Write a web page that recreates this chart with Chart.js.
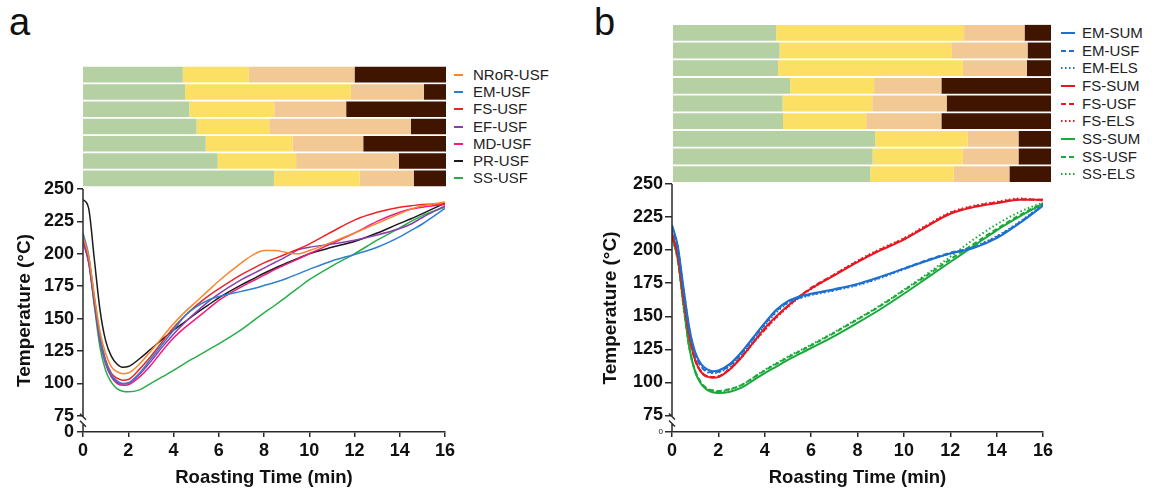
<!DOCTYPE html>
<html>
<head>
<meta charset="utf-8">
<script src="https://cdn.jsdelivr.net/npm/chart.js@4.4.0/dist/chart.umd.min.js"></script>
<style>
  body { margin: 0; background: #fff; }
  #wrap { position: relative; width: 1157px; height: 491px; overflow: hidden; font-family: "Liberation Sans", Arial, sans-serif; }
  canvas, svg, .leg, .panel { position: absolute; }
  .panel { font-size: 38px; color: #111; line-height: normal; }
  .leg { font-size: 15px; color: #222; line-height: 16px; white-space: nowrap; }
</style>
</head>
<body>
<div id="wrap">
  <div class="panel" style="left:9px; top:1px;">a</div>
  <div class="panel" style="left:594px; top:1px;">b</div>
  <canvas id="barA" width="363" height="121" style="left:83px; top:66px;"></canvas>
  <canvas id="lineA" width="470" height="321" style="left:0px; top:170px;"></canvas>
  <canvas id="barB" width="378" height="159" style="left:673px; top:24px;"></canvas>
  <canvas id="lineB" width="480" height="326" style="left:585px; top:165px;"></canvas>
</div>
<script>
// roast phase shares (% of roast): drying, yellowing, Maillard, development
const phaseColors = ['#b5d1a3', '#fce066', '#f2c994', '#401500'];

const rowsA = ['NRoR-USF', 'EM-USF', 'FS-USF', 'EF-USF', 'MD-USF', 'PR-USF', 'SS-USF'];
const colorsA = ['#f7862a', '#2d7fcf', '#ee2326', '#8b3db0', '#f5197f', '#1a1a1a', '#27ae4a'];
const phasesA = [
    [27.5, 18.2, 29.1, 25.2],
    [28.1, 45.7, 20.1, 6.1],
    [29.3, 23.4, 19.8, 27.5],
    [31.3, 20.0, 39.0, 9.7],
    [33.8, 23.9, 19.5, 22.8],
    [37.1, 21.6, 28.3, 13.0],
    [52.6, 23.6, 14.9, 8.9]
];

const rowsB = ['EM-SUM', 'EM-USF', 'EM-ELS', 'FS-SUM', 'FS-USF', 'FS-ELS', 'SS-SUM', 'SS-USF', 'SS-ELS'];
const colorsB = ['#1c6fd0', '#1c6fd0', '#1c6fd0', '#e8171f', '#e8171f', '#e8171f', '#1aa83a', '#1aa83a', '#1aa83a'];
const dashB = [[], [5, 3], [1.5, 2.5], [], [5, 3], [1.5, 2.5], [], [5, 3], [1.5, 2.5]];
const phasesB = [
    [27.3, 49.7, 16.0, 7.0],
    [28.2, 45.6, 20.0, 6.2],
    [27.8, 48.9, 16.9, 6.4],
    [31.0, 22.2, 17.8, 29.0],
    [29.0, 23.7, 19.7, 27.6],
    [29.1, 22.0, 19.9, 29.0],
    [53.5, 24.5, 13.4, 8.6],
    [52.8, 23.9, 14.7, 8.6],
    [52.2, 22.1, 14.7, 11.0]
];

// temperature curves, panel a
const timeA = [0, 0.25, 0.5, 0.75, 1, 1.25, 1.5, 1.75, 2, 2.5, 3, 3.5, 4, 4.5, 5, 5.5, 6, 7, 7.5, 8, 8.5, 9, 9.5, 10, 11, 12, 13, 14, 14.5, 15, 16];
const nrorUSF = [213, 198, 168, 140, 123, 113, 109, 107.5, 108, 115, 125, 135.5, 146, 155, 163, 171, 179, 193, 199, 202.5, 202.5, 201, 200, 202.5, 209, 216, 223.5, 231, 234.5, 237, 240];
const emUSF   = [216, 199, 166, 136, 117, 107, 102, 100, 100.5, 108, 119, 130, 141, 152, 159, 164, 167, 171, 173, 175.5, 178, 181, 184.5, 188, 194.5, 199.5, 205, 213, 218, 223, 235];
const fsUSF   = [213, 197, 165, 136, 118, 108, 104, 102.5, 103, 111, 121, 132, 143, 152, 160, 167, 173, 184, 188.5, 193, 196.5, 200, 203.5, 207.5, 217, 226, 232, 236, 237, 238, 238.5];
const efUSF   = [209, 193, 162, 133, 116, 106, 101, 99.5, 100, 107, 117, 128, 138, 147, 155, 162.5, 169, 180, 184.5, 189, 193.5, 198, 203, 205, 207.5, 210.5, 214.5, 219.5, 223, 228, 237];
const mdUSF   = [211, 195, 163, 133, 115, 105, 100, 98.5, 99, 105, 114, 125, 135, 143, 150, 157, 164, 174.5, 179, 183.5, 188, 192, 196, 200, 208, 216, 225, 232, 234.5, 236, 238];
const prUSF   = [242, 235, 196, 157, 133, 121, 115, 112.5, 113, 119, 126.5, 134, 141, 147.5, 154, 160, 166, 176, 180.5, 185, 189, 193, 196.5, 200, 205, 209.5, 216, 223.5, 227, 231, 239];
const ssUSF   = [211, 194, 160, 128, 110, 101, 96, 94, 93.5, 95, 100, 105, 110, 115.5, 120.5, 125.5, 130.5, 141.5, 148, 154.5, 160.5, 167, 173.5, 180, 190.5, 200, 210.5, 220, 225, 229.5, 236];
const tempA = [nrorUSF, emUSF, fsUSF, efUSF, mdUSF, prUSF, ssUSF];

// temperature curves, panel b
const timeB = [0, 0.25, 0.5, 0.75, 1, 1.25, 1.5, 1.75, 2, 2.5, 3, 3.5, 4, 4.5, 5, 5.5, 6, 7, 8, 9, 10, 11, 12, 13, 14, 15, 16];
const emSUM  = [219, 203, 171, 141, 123, 114, 110, 108.5, 109, 114, 123, 134, 145, 155, 161.5, 165, 167, 170.5, 174.5, 180, 186, 192, 197.5, 201.5, 209, 220.5, 233.5];
const emUSFb = [217, 201, 169, 139, 121, 112, 108.5, 107.5, 108, 113, 122, 133, 144, 154, 160.5, 164, 166.5, 170, 174, 179.5, 186, 192.5, 198, 202, 210, 221, 234];
const emELS  = [218, 202, 170, 140, 122, 113, 108, 107, 107.5, 112.5, 121.5, 132, 143, 153, 160, 163.5, 166, 169.5, 173.5, 179, 185.5, 192, 197.5, 202.5, 210.5, 221.5, 234.5];
const fsSUM  = [213, 196, 164, 135, 117, 108, 104.5, 103.5, 104, 110, 119, 130, 141, 150, 158, 165, 171, 181, 191, 200, 208, 218, 227.5, 232.5, 235.5, 238, 238];
const fsUSFb = [212, 195, 163, 134, 116.5, 108, 104.5, 104, 104.5, 110.5, 119.5, 130, 140, 149.5, 157.5, 165, 171.5, 181.5, 191.5, 200.5, 208.5, 218.5, 228, 233, 236, 238.5, 238];
const fsELS  = [212.5, 195.5, 163.5, 134.5, 117, 108.5, 105, 104, 104.5, 110, 119, 129.5, 139.5, 149, 157, 164.5, 170.5, 181.5, 192, 201, 209, 219, 228.5, 233.5, 236.5, 239, 237.5];
const ssSUM  = [211, 193, 158, 126, 108, 99, 94.5, 92.5, 92, 93, 96, 101.5, 107, 112, 117, 121.5, 126, 135, 145, 155.5, 167, 179, 191, 203, 215, 225.5, 235];
const ssUSFb = [210, 192, 157, 126, 108.5, 100, 95.5, 94, 93.5, 95, 98, 103.5, 109, 114, 119, 123.5, 128, 137.5, 147.5, 158, 169.5, 181, 193, 204.5, 216, 226.5, 235.5];
const ssELS  = [210.5, 192.5, 157.5, 126, 108.5, 99.5, 95, 93.5, 93, 94.5, 98, 103.5, 109.5, 114.5, 119.5, 124, 128.5, 138, 148, 158.5, 170, 182, 195, 208, 219.5, 229, 236];
const tempB = [emSUM, emUSFb, emELS, fsSUM, fsUSFb, fsELS, ssSUM, ssUSFb, ssELS];

// broken y axis: 0 sits just below 75
const yTickValues = [62.5, 75, 100, 125, 150, 175, 200, 225, 250];
const yTickLabels = ['0', '75', '100', '125', '150', '175', '200', '225', '250'];
const xTicks = [0, 2, 4, 6, 8, 10, 12, 14, 16];

const axisColor = '#2b2b2b';
const tickFont = { size: 18, weight: 'bold' };

Chart.defaults.font.family = "'Liberation Sans', Arial, sans-serif";
Chart.defaults.color = '#111';

const brokenAxis = {
    id: 'brokenAxis',
    afterDraw(chart) {
        const { ctx, chartArea } = chart;
        const x0 = chartArea.left;
        const y75 = chart.scales.y.getPixelForValue(75);
        const g1 = y75 + 1, g2 = y75 + 8;
        ctx.save();
        ctx.strokeStyle = axisColor;
        ctx.lineWidth = 1.5;
        ctx.beginPath();
        ctx.moveTo(x0, chartArea.top); ctx.lineTo(x0, g1);
        ctx.moveTo(x0, g2); ctx.lineTo(x0, chartArea.bottom);
        [g1, g2].forEach(g => { ctx.moveTo(x0 - 3, g - 3); ctx.lineTo(x0 + 3, g + 3); });
        ctx.stroke();
        ctx.restore();
    }
};

function drawBars(id, rows, phases) {
    new Chart(document.getElementById(id), {
        type: 'bar',
        data: {
            labels: rows,
            datasets: phaseColors.map((c, k) => ({
                data: phases.map(r => r[k]),
                backgroundColor: c,
                borderWidth: 0,
                barPercentage: 0.9,
                categoryPercentage: 1
            }))
        },
        options: {
            indexAxis: 'y',
            responsive: false,
            animation: false,
            plugins: { legend: { display: false }, tooltip: { enabled: false } },
            scales: {
                x: { stacked: true, min: 0, max: 100, display: false },
                y: { stacked: true, display: false }
            }
        }
    });
}

function drawLegend(rows, colors, dashes, top, rowH, lineX0, lineX1, textX) {
    const wrap = document.getElementById('wrap');
    rows.forEach((name, i) => {
        const cy = top + rowH * (i + 0.5);
        const w = lineX1 - lineX0;
        const dash = dashes ? dashes[i].join(' ') : '';
        wrap.insertAdjacentHTML('beforeend',
            `<svg width="${w}" height="4" style="left:${lineX0}px; top:${cy - 2}px">` +
            `<line x1="0" y1="2" x2="${w}" y2="2" stroke="${colors[i]}" stroke-width="2" stroke-dasharray="${dash}"/></svg>` +
            `<div class="leg" style="left:${textX}px; top:${cy - 8}px;">${name}</div>`);
    });
}

function drawLines(id, rows, colors, dashes, times, temps, cfg) {
    const datasets = rows.map((name, i) => ({
        label: name,
        data: times.map((t, j) => ({ x: t, y: temps[i][j] })),
        borderColor: colors[i],
        borderWidth: cfg.lineWidth,
        borderDash: dashes ? dashes[i] : [],
        pointRadius: 0,
        fill: false,
        cubicInterpolationMode: 'monotone'
    }));

    new Chart(document.getElementById(id), {
        type: 'line',
        data: { datasets: datasets },
        options: {
            responsive: false,
            animation: false,
            layout: { padding: { top: cfg.padTop, right: cfg.padRight, left: 0, bottom: 0 } },
            plugins: { legend: { display: false }, tooltip: { enabled: false } },
            scales: {
                x: {
                    type: 'linear', min: 0, max: 16,
                    afterBuildTicks: s => { s.ticks = xTicks.map(v => ({ value: v })); },
                    ticks: { font: tickFont, padding: 3, color: '#111' },
                    grid: { drawOnChartArea: false, tickLength: 5, color: axisColor, lineWidth: 1.5 },
                    border: { display: true, color: axisColor, width: 1.5 },
                    title: { display: true, text: 'Roasting Time (min)', font: { size: 18.5, weight: 'bold' }, color: '#111', padding: { top: 0, bottom: 2 } },
                    afterFit: s => { s.height = cfg.xHeight; }
                },
                y: {
                    min: 62.5, max: 250,
                    afterBuildTicks: s => { s.ticks = yTickValues.map(v => ({ value: v })); },
                    ticks: {
                        callback: (v, i) => yTickLabels[i],
                        font: c => (c.index === 0 ? cfg.zeroFont : tickFont),
                        padding: cfg.yPad,
                        color: '#111'
                    },
                    grid: { drawOnChartArea: false, tickLength: cfg.yTick, color: axisColor, lineWidth: 1.5 },
                    border: { display: false },
                    title: { display: true, text: 'Temperature (°C)', font: { size: 19, weight: 'bold' }, color: '#111', padding: { top: cfg.titlePad, bottom: 0 } },
                    afterFit: s => { s.width = cfg.yWidth; }
                }
            }
        },
        plugins: [brokenAxis]
    });
}

drawBars('barA', rowsA, phasesA);
drawBars('barB', rowsB, phasesB);

drawLegend(rowsA, colorsA, null, 66, 121 / 7, 454, 463, 473);
drawLegend(rowsB, colorsB, dashB, 24, 159 / 9, 1061, 1075, 1082);

drawLines('lineA', rowsA, colorsA, null, timeA, tempA, {
    lineWidth: 1.5, padTop: 19, padRight: 25, xHeight: 59, yWidth: 83,
    yPad: 3, yTick: 6, titlePad: 13, zeroFont: tickFont
});
drawLines('lineB', rowsB, colorsB, dashB, timeB, tempB, {
    lineWidth: 2, padTop: 19, padRight: 22, xHeight: 59, yWidth: 87,
    yPad: 2, yTick: 7, titlePad: 14, zeroFont: { size: 8 }
});
</script>
</body>
</html>
